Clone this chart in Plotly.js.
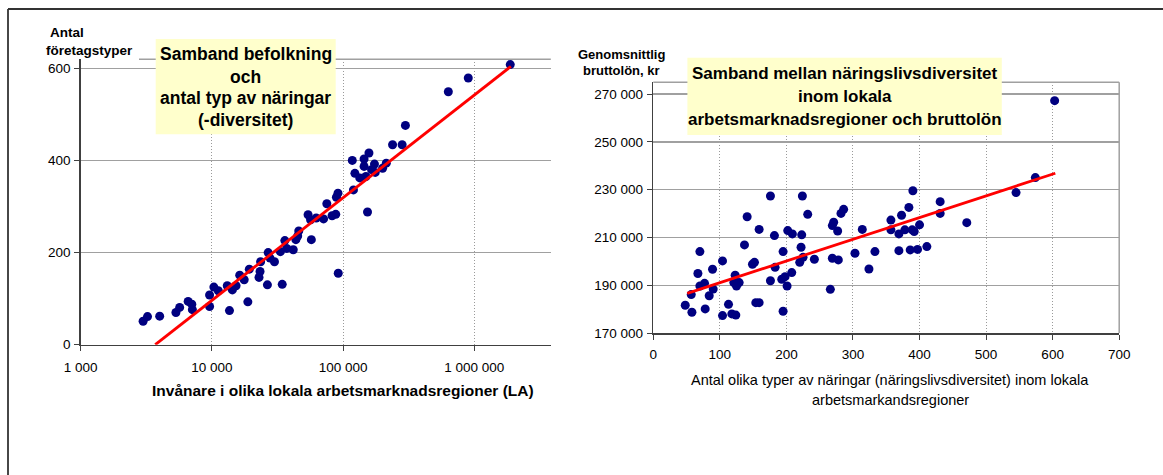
<!DOCTYPE html>
<html>
<head>
<meta charset="utf-8">
<script src="https://cdn.plot.ly/plotly-3.0.1.min.js"></script>
<style>
  html, body { margin: 0; padding: 0; background: #ffffff; }
  #chart { width: 1163px; height: 475px; }
</style>
</head>
<body>
<div id="chart"></div>
<script>
// ---------- Left chart: population (LA) vs number of business types ----------
const popValues = [2990, 3230, 4000, 5320, 5680, 6590, 7030, 7100, 9600, 9600,
  10350, 11190, 13090, 13610, 14320, 15280, 16290, 17620, 18790, 19280,
  22860, 23280, 23500, 26490, 26850, 27730, 29990, 34360, 33270, 35970,
  37150, 41690, 43650, 45920, 45080, 54080, 56490, 57280, 62370, 70960,
  75160, 82410, 87900, 88920, 91410, 91830, 117500, 119900, 123000, 134000,
  144500, 144500, 149300, 153500, 157400, 164800, 173400, 175800, 200000, 213300,
  238200, 281800, 298500, 633900, 899500, 1879000];
const typeCounts = [51, 61, 62, 70, 81, 94, 88, 76, 83, 108,
  125, 117, 128, 74, 119, 128, 151, 141, 93, 164,
  146, 159, 180, 130, 200, 188, 180, 131, 202, 226,
  209, 206, 228, 247, 236, 282, 271, 228, 275, 273,
  306, 280, 283, 320, 329, 155, 400, 336, 372, 362,
  403, 387, 365, 288, 416, 380, 392, 374, 383, 394,
  434, 434, 476, 549, 579, 608];
const popTrendX = [3700, 1900000];
const popTrendY = [0, 604];
const popTickVals = [1000, 10000, 100000, 1000000];
const popTickText = ['1 000', '10 000', '100 000', '1 000 000'];
const countTickVals = [0, 200, 400, 600];
const countTickText = ['0', '200', '400', '600'];

// ---------- Right chart: diversity vs average gross salary ----------
const diversity = [48, 57, 58, 67, 70, 70, 77, 78, 84, 89,
  90, 104, 104, 113, 118, 124, 123, 121, 125, 129,
  137, 141, 149, 152, 154, 159, 159, 176, 176, 182,
  183, 195, 195, 193, 198, 201, 202, 208, 209, 222,
  223, 220, 224, 225, 232, 242, 266, 269, 271, 269,
  277, 278, 282, 286, 303, 314, 324, 333, 357, 357,
  369, 369, 373, 378, 384, 386, 389, 390, 392, 397,
  400, 411, 431, 431, 471, 545, 574, 603];
const salary = [181600, 186100, 178700, 194900, 204100, 189700, 190800, 180100, 185600, 196700,
  188400, 200200, 177300, 182000, 178000, 177500, 194200, 191100, 189700, 191100,
  206900, 218700, 198800, 199600, 182700, 182700, 213400, 227400, 191900, 210800,
  197500, 179100, 204100, 192500, 193600, 189700, 212900, 195300, 211500, 205900,
  211100, 199600, 227400, 201700, 219700, 200900, 188300, 215000, 216400, 201300,
  212700, 200600, 220100, 221800, 203400, 213400, 196800, 204100, 217300, 213200,
  211500, 204500, 219300, 213200, 222600, 204800, 213200, 229600, 212500, 205000,
  215300, 206200, 225000, 220100, 216200, 228800, 235100, 267300];
const divTrendX = [51, 604];
const divTrendY = [186600, 236900];
const divTickVals = [0, 100, 200, 300, 400, 500, 600, 700];
const divTickText = ['0', '100', '200', '300', '400', '500', '600', '700'];
const salTickVals = [170000, 190000, 210000, 230000, 250000, 270000];
const salTickText = ['170 000', '190 000', '210 000', '230 000', '250 000', '270 000'];

// ---------- layout helpers (pixel -> paper) ----------
const W = 1163, H = 475;
const px = x => x / W;
const py = y => 1 - y / H;
const FONT = 'Liberation Sans, Arial, sans-serif';
const GRID = '#a0a0a0';
const VGRID = '#9a9a9a';
const AXIS = '#404040';

const dotStyle = { color: '#000080', size: 9 };
const lineStyle = { color: '#ff0000', width: 2.8 };

const traces = [
  { x: popValues, y: typeCounts, type: 'scatter', mode: 'markers', marker: dotStyle,
    xaxis: 'x', yaxis: 'y', hoverinfo: 'x+y' },
  { x: popTrendX, y: popTrendY, type: 'scatter', mode: 'lines', line: lineStyle,
    xaxis: 'x', yaxis: 'y', hoverinfo: 'skip' },
  { x: diversity, y: salary, type: 'scatter', mode: 'markers', marker: dotStyle,
    xaxis: 'x2', yaxis: 'y2', hoverinfo: 'x+y' },
  { x: divTrendX, y: divTrendY, type: 'scatter', mode: 'lines', line: lineStyle,
    xaxis: 'x2', yaxis: 'y2', hoverinfo: 'skip' }
];

const commonAxis = {
  showline: true, linecolor: AXIS, linewidth: 1.5,
  ticks: 'outside', ticklen: 5, tickcolor: AXIS, tickwidth: 1,
  tickfont: { family: FONT, size: 13.5, color: '#000000' },
  zeroline: false, showgrid: true, fixedrange: true
};

const layout = {
  width: W, height: H,
  margin: { l: 0, r: 0, t: 0, b: 0, pad: 0 },
  paper_bgcolor: '#ffffff', plot_bgcolor: '#ffffff',
  showlegend: false,
  font: { family: FONT, color: '#000000' },
  xaxis: Object.assign({}, commonAxis, {
    type: 'log', domain: [px(80.7), px(550.8)], range: [3, 6.583], anchor: 'y',
    tickmode: 'array', tickvals: popTickVals, ticktext: popTickText,
    gridcolor: VGRID, gridwidth: 1, griddash: '1px,2px', ticklabelstandoff: 5
  }),
  yaxis: Object.assign({}, commonAxis, {
    domain: [py(344.7), py(59.3)], range: [0, 619.5], anchor: 'x',
    tickmode: 'array', tickvals: countTickVals, ticktext: countTickText,
    gridcolor: GRID, gridwidth: 1.5, ticklabelstandoff: 1
  }),
  xaxis2: Object.assign({}, commonAxis, {
    domain: [px(653.3), px(1119.2)], range: [0, 700], anchor: 'y2',
    tickmode: 'array', tickvals: divTickVals, ticktext: divTickText,
    gridcolor: VGRID, gridwidth: 1, griddash: '1px,2px', ticklabelstandoff: 3
  }),
  yaxis2: Object.assign({}, commonAxis, {
    domain: [py(333), py(82.3)], range: [170000, 275000], anchor: 'x2',
    tickmode: 'array', tickvals: salTickVals, ticktext: salTickText,
    gridcolor: GRID, gridwidth: 1.5, ticklabelstandoff: 1
  }),
  shapes: [
    // outer frame (top and left)
    { type: 'line', xref: 'paper', yref: 'paper', x0: px(8), x1: 1, y0: py(9), y1: py(9),
      line: { color: '#333333', width: 1.8 } },
    { type: 'line', xref: 'paper', yref: 'paper', x0: px(8), x1: px(8), y0: py(9), y1: 0,
      line: { color: '#333333', width: 1.8 } },
    // left plot top border
    { type: 'line', xref: 'paper', yref: 'paper', x0: px(139), x1: px(550.8), y0: py(59.3), y1: py(59.3),
      line: { color: GRID, width: 1.5 } },
    // right plot top and right borders
    { type: 'line', xref: 'paper', yref: 'paper', x0: px(653.3), x1: px(1119.2), y0: py(82.3), y1: py(82.3),
      line: { color: GRID, width: 1.5 } },
    { type: 'line', xref: 'paper', yref: 'paper', x0: px(1119.2), x1: px(1119.2), y0: py(82.3), y1: py(333),
      line: { color: GRID, width: 1.5 } },
    // title boxes
    { type: 'rect', xref: 'paper', yref: 'paper', layer: 'above',
      x0: px(155.7), x1: px(335.7), y0: py(134.3), y1: py(39),
      fillcolor: '#ffffcc', line: { width: 0 } },
    { type: 'rect', xref: 'paper', yref: 'paper', layer: 'above',
      x0: px(687.4), x1: px(1001.8), y0: py(135), y1: py(57.7),
      fillcolor: '#ffffcc', line: { width: 0 } }
  ],
  annotations: []
};

function note(text, x, y, size, bold, xanchor) {
  layout.annotations.push({
    text: bold ? '<b>' + text + '</b>' : text,
    xref: 'paper', yref: 'paper', x: px(x), y: py(y),
    xanchor: xanchor || 'center', yanchor: 'middle',
    showarrow: false, font: { family: FONT, size: size, color: '#000000' }
  });
}

// left chart texts
note('Antal', 48, 32.3, 13.5, true, 'left');
note('företagstyper', 43.5, 50, 13.5, true, 'left');
note('Samband befolkning', 245.7, 54.3, 17.5, true);
note('och', 245.7, 76.7, 17.5, true);
note('antal typ av näringar', 245.7, 98.3, 17.5, true);
note('(-diversitet)', 245.7, 120, 17.5, true);
note('Invånare i olika lokala arbetsmarknadsregioner (LA)', 342.5, 390, 15.5, true);

// right chart texts
note('Genomsnittlig', 621.7, 54, 13, true);
note('bruttolön, kr', 621.7, 70.7, 13, true);
note('Samband mellan näringslivsdiversitet', 844.6, 73.3, 17, true);
note('inom lokala', 844.6, 96.7, 17, true);
note('arbetsmarknadsregioner och bruttolön', 844.6, 119.3, 17, true);
note('Antal olika typer av näringar (näringslivsdiversitet) inom lokala', 890, 380, 14.5, false);
note('arbetsmarkandsregioner', 890, 400, 14.5, false);

Plotly.newPlot('chart', traces, layout, { displayModeBar: false, staticPlot: true });
</script>
</body>
</html>
